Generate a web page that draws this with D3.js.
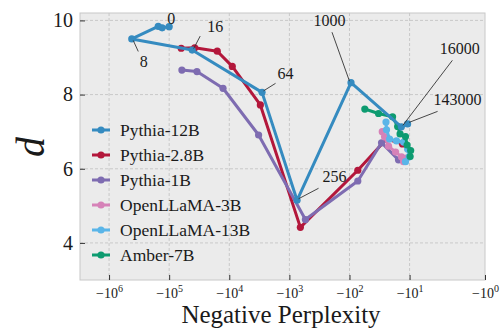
<!DOCTYPE html>
<html>
<head>
<meta charset="utf-8">
<script src="https://cdn.jsdelivr.net/npm/d3@7"></script>
<style>
  body { margin: 0; background: #fff; }
  text { font-family: "Liberation Serif", "DejaVu Serif", serif; fill: #1a1a1a; }
</style>
</head>
<body>
<svg id="chart" width="502" height="330"></svg>
<script>
const modelNames = ['Pythia-12B', 'Pythia-2.8B', 'Pythia-1B', 'OpenLLaMA-3B', 'OpenLLaMA-13B', 'Amber-7B'];
const modelColors = ['#358bc0', '#b3173b', '#7e6cb1', '#d682b8', '#5ab5e8', '#0d9b70'];

// perplexity (positive, plotted as negative) and d per checkpoint
const pythia12bSteps = [0, 1, 2, 8, 16, 64, 256, 1000, 16000, 143000];
const pythia12bPpl = [100000, 131000, 152000, 419000, 41400, 2850, 745, 94.4, 13.7, 10.8];
const pythia12bD = [9.83, 9.80, 9.84, 9.50, 9.20, 8.06, 5.15, 8.32, 7.13, 7.21];

const pythia28bPpl = [63100, 37600, 15850, 8910, 3040, 656, 72.7, 24.2, 13.1];
const pythia28bD = [9.25, 9.26, 9.17, 8.76, 7.72, 4.42, 5.96, 6.80, 6.67];

const pythia1bPpl = [61400, 34500, 12700, 3250, 541, 72.7, 29.3, 15.3];
const pythia1bD = [8.66, 8.62, 8.17, 6.91, 4.63, 5.67, 6.70, 6.24];

const openllama3bPpl = [28.5, 26.1, 22.4, 17.1, 13.6, 11.4, 12.6];
const openllama3bD = [7.00, 6.86, 6.61, 6.45, 6.32, 6.29, 6.19];

const openllama13bPpl = [24.7, 24.2, 21.5, 16.5, 12.6, 10.8, 10.2, 11.7];
const openllama13bD = [7.26, 7.05, 6.80, 6.75, 6.72, 6.53, 6.32, 6.19];

const amber7bPpl = [55.6, 32.9, 19.2, 15.8, 14.4, 11.7, 11.0, 9.6, 9.8];
const amber7bD = [7.61, 7.49, 7.40, 7.14, 6.94, 6.87, 6.64, 6.49, 6.33];

const xTickExps = [6, 5, 4, 3, 2, 1, 0];
const yTicks = [4, 6, 8, 10];
const labeledSteps = [0, 8, 16, 64, 256, 1000, 16000, 143000];

// text offset and leader-line end, in px from the point
const labelOffsets = {
  0: [2, -8.5, null, null],
  8: [12, 22.5, 6.5, 12.5],
  16: [23, -24, 8, -14],
  64: [23.5, -18.5, 13.5, -9],
  256: [37.5, -24, 21.5, -12],
  1000: [-21.5, -62, -19, -50.5],
  16000: [58.5, -78.5, 51, -66.5],
  143000: [50, -24, 30, -12.5]
};

const pplLists = [pythia12bPpl, pythia28bPpl, pythia1bPpl, openllama3bPpl, openllama13bPpl, amber7bPpl];
const dLists = [pythia12bD, pythia28bD, pythia1bD, openllama3bD, openllama13bD, amber7bD];

const series = modelNames.map((name, i) => ({
  name,
  color: modelColors[i],
  points: pplLists[i].map((p, j) => ({ x: -p, d: dLists[i][j] }))
}));

// matplotlib style symlog, linthresh 2
const linthresh = 2;
const linscaleAdj = 1 / (1 - 1 / 10);
function symlog(v) {
  const a = Math.abs(v);
  if (a <= linthresh) return v * linscaleAdj;
  return Math.sign(v) * linthresh * (linscaleAdj + Math.log10(a / linthresh));
}

const svg = d3.select('#chart');
const plotLeft = 80, plotRight = 485, plotTop = 13, plotBottom = 280;

const xScale = d3.scaleLinear()
  .domain([symlog(-1e6) - 29 / 30, symlog(-1)])
  .range([plotLeft, plotRight]);
const yScale = d3.scaleLinear()
  .domain([3.0, 10.2])
  .range([plotBottom, plotTop]);
const px = v => xScale(symlog(v));

svg.append('rect')
  .attr('x', plotLeft).attr('y', plotTop)
  .attr('width', plotRight - plotLeft).attr('height', plotBottom - plotTop)
  .attr('fill', '#ebebeb');

const grid = svg.append('g');
xTickExps.filter(e => e > 0).forEach(e => {
  grid.append('line')
    .attr('x1', px(-(10 ** e))).attr('x2', px(-(10 ** e)))
    .attr('y1', plotTop).attr('y2', plotBottom);
});
yTicks.forEach(t => {
  grid.append('line')
    .attr('x1', plotLeft).attr('x2', plotRight)
    .attr('y1', yScale(t)).attr('y2', yScale(t));
});
grid.selectAll('line')
  .attr('stroke', '#c4c4c4')
  .attr('stroke-width', 0.9)
  .attr('stroke-dasharray', '3,2');

svg.append('rect')
  .attr('x', plotLeft).attr('y', plotTop)
  .attr('width', plotRight - plotLeft).attr('height', plotBottom - plotTop)
  .attr('fill', 'none')
  .attr('stroke', '#c8c8c8');

const xAxis = svg.append('g')
  .attr('transform', `translate(0, ${plotBottom})`)
  .call(d3.axisBottom(xScale)
    .tickValues(xTickExps.map(e => symlog(-(10 ** e))))
    .tickSize(-5)
    .tickPadding(8)
    .tickFormat(''));
xAxis.select('.domain').remove();
xAxis.selectAll('.tick line').attr('stroke', '#333');
xAxis.selectAll('.tick text').each(function (d, i) {
  const t = d3.select(this).attr('font-size', 14).attr('font-family', null);
  t.append('tspan').text('\u221210');
  t.append('tspan').attr('dy', -6).attr('font-size', 10).text(xTickExps[i]);
});

const yAxis = svg.append('g')
  .attr('transform', `translate(${plotLeft}, 0)`)
  .call(d3.axisLeft(yScale)
    .tickValues(yTicks)
    .tickSize(-5)
    .tickPadding(7));
yAxis.select('.domain').remove();
yAxis.selectAll('.tick line').attr('stroke', '#333');
yAxis.selectAll('.tick text').attr('font-size', 20).attr('font-family', null);

svg.append('text')
  .attr('x', 281)
  .attr('y', 323)
  .attr('text-anchor', 'middle')
  .attr('font-size', 25)
  .text('Negative Perplexity');

svg.append('text')
  .attr('transform', 'translate(44, 147) rotate(-90)')
  .attr('text-anchor', 'middle')
  .attr('font-size', 40)
  .attr('font-style', 'italic')
  .text('d');

const line = d3.line()
  .x(p => px(p.x))
  .y(p => yScale(p.d));

// draw the Pythia-12B curve last so it sits on top
const drawOrder = [1, 2, 3, 4, 5, 0];
drawOrder.forEach(i => {
  const s = series[i];
  const g = svg.append('g');
  g.append('path')
    .datum(s.points)
    .attr('d', line)
    .attr('fill', 'none')
    .attr('stroke', s.color)
    .attr('stroke-width', 3)
    .attr('stroke-linejoin', 'round')
    .attr('stroke-linecap', 'round');
  g.selectAll('circle')
    .data(s.points)
    .enter()
    .append('circle')
    .attr('cx', p => px(p.x))
    .attr('cy', p => yScale(p.d))
    .attr('r', 3.6)
    .attr('fill', s.color);
});

// step annotations on Pythia-12B
const notes = svg.append('g');
labeledSteps.forEach(step => {
  const j = pythia12bSteps.indexOf(step);
  const cx = px(-pythia12bPpl[j]);
  const cy = yScale(pythia12bD[j]);
  const [tdx, tdy, adx, ady] = labelOffsets[step];
  if (adx !== null) {
    notes.append('line')
      .attr('x1', cx + Math.sign(adx) * 1.5).attr('y1', cy + Math.sign(ady) * 1.5)
      .attr('x2', cx + adx).attr('y2', cy + ady)
      .attr('stroke', '#333')
      .attr('stroke-width', 0.9);
  }
  notes.append('text')
    .attr('x', cx + tdx)
    .attr('y', cy + tdy)
    .attr('dy', '0.35em')
    .attr('text-anchor', 'middle')
    .attr('font-size', 16)
    .text(step);
});

// legend
const legend = svg.append('g');
series.forEach((s, i) => {
  const ly = 130 + i * 25;
  legend.append('line')
    .attr('x1', 92).attr('x2', 110)
    .attr('y1', ly).attr('y2', ly)
    .attr('stroke', s.color)
    .attr('stroke-width', 3);
  legend.append('circle')
    .attr('cx', 101).attr('cy', ly)
    .attr('r', 3.6)
    .attr('fill', s.color);
  legend.append('text')
    .attr('x', 120)
    .attr('y', ly)
    .attr('dy', '0.35em')
    .attr('font-size', 17.5)
    .text(s.name);
});
</script>
</body>
</html>
